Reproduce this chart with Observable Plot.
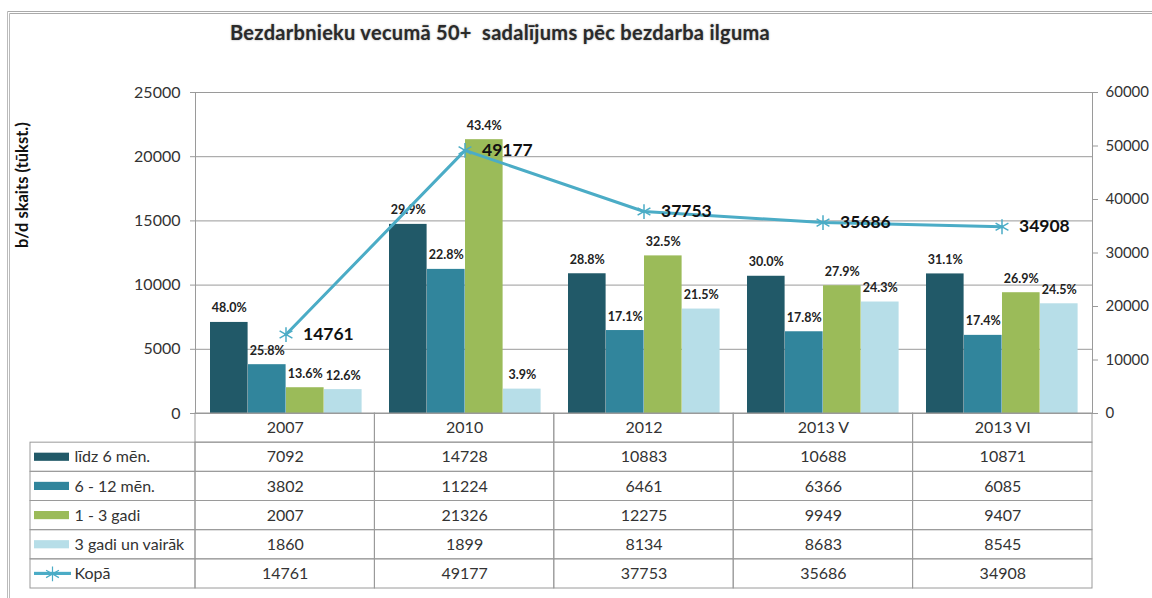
<!DOCTYPE html>
<html><head><meta charset="utf-8">
<script src="https://cdn.jsdelivr.net/npm/d3@7"></script>
<script src="https://cdn.jsdelivr.net/npm/@observablehq/plot@0.6"></script>
<style>
body{margin:0;background:#fff;font-family:Lato,sans-serif;}
#wrap{position:relative;width:1152px;height:598px;overflow:hidden;background:#fff;}
#frame{position:absolute;left:7px;top:11px;width:1160px;height:600px;border-top:3px double #aaa;border-left:3px double #bbb;}
#title{position:absolute;top:20px;left:230px;font:bold 20px Lato,sans-serif;letter-spacing:0.3px;color:#2a2a2a;text-shadow:0 0 2px #999;white-space:pre;}
#main{position:absolute;top:60px;left:0;}
#table{position:absolute;top:412px;left:0;}
</style></head>
<body>
<div id="wrap">
<div id="frame"></div>
<div id="title">Bezdarbnieku vecumā 50+  sadalījums pēc bezdarba ilguma</div>
<div id="main"></div>
<div id="table"></div>
</div>
<script>
const categories = ["2007", "2010", "2012", "2013 V", "2013 VI"];
const seriesNames = ["līdz 6 mēn.", "6 - 12 mēn.", "1 - 3 gadi", "3 gadi un vairāk"];
const lineName = "Kopā";
const lidz6 = [7092, 14728, 10883, 10688, 10871];
const m6to12 = [3802, 11224, 6461, 6366, 6085];
const g1to3 = [2007, 21326, 12275, 9949, 9407];
const g3plus = [1860, 1899, 8134, 8683, 8545];
const kopa = [14761, 49177, 37753, 35686, 34908];
const pctLidz6 = ["48.0%", "29.9%", "28.8%", "30.0%", "31.1%"];
const pct6to12 = ["25.8%", "22.8%", "17.1%", "17.8%", "17.4%"];
const pct1to3 = ["13.6%", "43.4%", "32.5%", "27.9%", "26.9%"];
const pct3plus = ["12.6%", "3.9%", "21.5%", "24.3%", "24.5%"];
const leftTicks = [0, 5000, 10000, 15000, 20000, 25000];
const rightTicks = [0, 10000, 20000, 30000, 40000, 50000, 60000];
const yAxisTitle = "b/d skaits (tūkst.)";

const colors = ["#215968", "#31859C", "#9BBB59", "#B7DEE8"];
const lineColor = "#4BACC6";
const seriesValues = [lidz6, m6to12, g1to3, g3plus];
const seriesPct = [pctLidz6, pct6to12, pct1to3, pct3plus];
const LEFT_MAX = 25000, RIGHT_MAX = 60000;
const toLeft = v => v * LEFT_MAX / RIGHT_MAX;

const rows = categories.map((c, i) => ({cat: c, total: kopa[i]}));
const bars = [];
seriesValues.forEach((arr, j) => arr.forEach((v, i) => bars.push({cat: categories[i], s: j, v, pct: seriesPct[j][i]})));

// layout
const W = 1152, mL = 195, mR = 60;
const band = (W - mL - mR) / categories.length;
const padOuter = 14, barW = 38;

const marks = [
  Plot.gridY(leftTicks.filter(d => d > 0), {stroke: "#9a9a9a", strokeOpacity: 1}),
  Plot.frame({stroke: "#9a9a9a"}),
];
seriesValues.forEach((arr, j) => {
  marks.push(Plot.barY(bars.filter(b => b.s === j), {
    x: "cat", y: "v", fill: colors[j],
    insetLeft: padOuter + barW * j,
    insetRight: band - padOuter - barW * (j + 1)
  }));
});
seriesValues.forEach((arr, j) => {
  marks.push(Plot.text(bars.filter(b => b.s === j), {
    x: "cat", y: "v", text: "pct",
    dx: -band / 2 + padOuter + barW * j + barW / 2,
    dy: -10, lineAnchor: "bottom",
    fontWeight: "bold", fontSize: 12.5, fill: "#222"
  }));
});
marks.push(
  Plot.line(rows, {x: "cat", y: d => toLeft(d.total), stroke: lineColor, strokeWidth: 3}),
  Plot.dot(rows, {x: "cat", y: d => toLeft(d.total), symbol: "asterisk", r: 7, stroke: lineColor, strokeWidth: 1.5}),
  Plot.text(rows, {x: "cat", y: d => toLeft(d.total), text: d => String(d.total), textAnchor: "start", dx: 17, fontWeight: "bold", fontSize: 17.5, fill: "#111"}),
  Plot.axisY({anchor: "left", ticks: leftTicks, tickSize: 5, tickPadding: 10, tickFormat: d3.format("d"), label: null, fontSize: 16, fill: "#333", stroke: "#9a9a9a"}),
  Plot.axisY({anchor: "right", ticks: rightTicks.map(toLeft), tickSize: 5, tickPadding: 8, tickFormat: d => String(Math.round(d * RIGHT_MAX / LEFT_MAX)), label: null, fontSize: 15, fill: "#333", stroke: "#9a9a9a"}),
  Plot.text([yAxisTitle], {frameAnchor: "left", dx: -173, dy: -5, rotate: -90, fontWeight: "bold", fontSize: 16.5, fill: "#111"})
);

const main = Plot.plot({
  width: W, height: 354,
  marginTop: 32, marginBottom: 1, marginLeft: mL, marginRight: mR,
  style: {fontFamily: "Lato, sans-serif", background: "transparent", overflow: "visible"},
  x: {type: "band", domain: categories, paddingInner: 0, paddingOuter: 0, axis: null},
  y: {domain: [0, LEFT_MAX], axis: null},
  marks
});
document.getElementById("main").appendChild(main);

// data table under the chart
const labelW = 165 / band;
const tableRows = [lidz6, m6to12, g1to3, g3plus, kopa];
const rowNames = [...seriesNames, lineName];
const cells = [];
categories.forEach((c, i) => cells.push({x1: i, x2: i + 1, y1: 0, y2: 1}));
tableRows.forEach((arr, r) => {
  cells.push({x1: -labelW, x2: 0, y1: r + 1, y2: r + 2});
  arr.forEach((v, i) => cells.push({x1: i, x2: i + 1, y1: r + 1, y2: r + 2}));
});
const tmarks = [
  Plot.rect(cells, {x1: "x1", x2: "x2", y1: "y1", y2: "y2", fill: "none", stroke: "#9a9a9a"}),
  Plot.text(categories, {x: (d, i) => i + 0.5, y: 0.5, text: d => d, fontSize: 16, fill: "#333"}),
];
tableRows.forEach((arr, r) => {
  tmarks.push(Plot.text(arr, {x: (d, i) => i + 0.5, y: r + 1.5, text: d => String(d), fontSize: 16, fill: "#333"}));
});
tmarks.push(
  Plot.text(rowNames, {x: -labelW, y: (d, i) => i + 1.5, text: d => d, textAnchor: "start", dx: 44, fontSize: 16, fill: "#333"}),
  Plot.rect(seriesNames, {x1: -labelW, x2: 0, y1: (d, i) => i + 1, y2: (d, i) => i + 2, fill: (d, i) => colors[i],
    insetLeft: 4, insetRight: 165 - 39, insetTop: 10.5, insetBottom: 10.5}),
  Plot.rect([lineName], {x1: -labelW, x2: 0, y1: 5, y2: 6, fill: lineColor,
    insetLeft: 4, insetRight: 165 - 41, insetTop: 13, insetBottom: 13}),
  Plot.dot([lineName], {x: -labelW, y: 5.5, dx: 22, symbol: "asterisk", r: 7, stroke: lineColor, strokeWidth: 1.2})
);
const table = Plot.plot({
  width: W, height: 186,
  marginTop: 1, marginBottom: 10, marginLeft: 30, marginRight: mR,
  style: {fontFamily: "Lato, sans-serif", background: "transparent", overflow: "visible"},
  x: {type: "linear", domain: [-labelW, categories.length], axis: null},
  y: {type: "linear", domain: [0, tableRows.length + 1], reverse: true, axis: null},
  marks: tmarks
});
document.getElementById("table").appendChild(table);
</script>
</body></html>
